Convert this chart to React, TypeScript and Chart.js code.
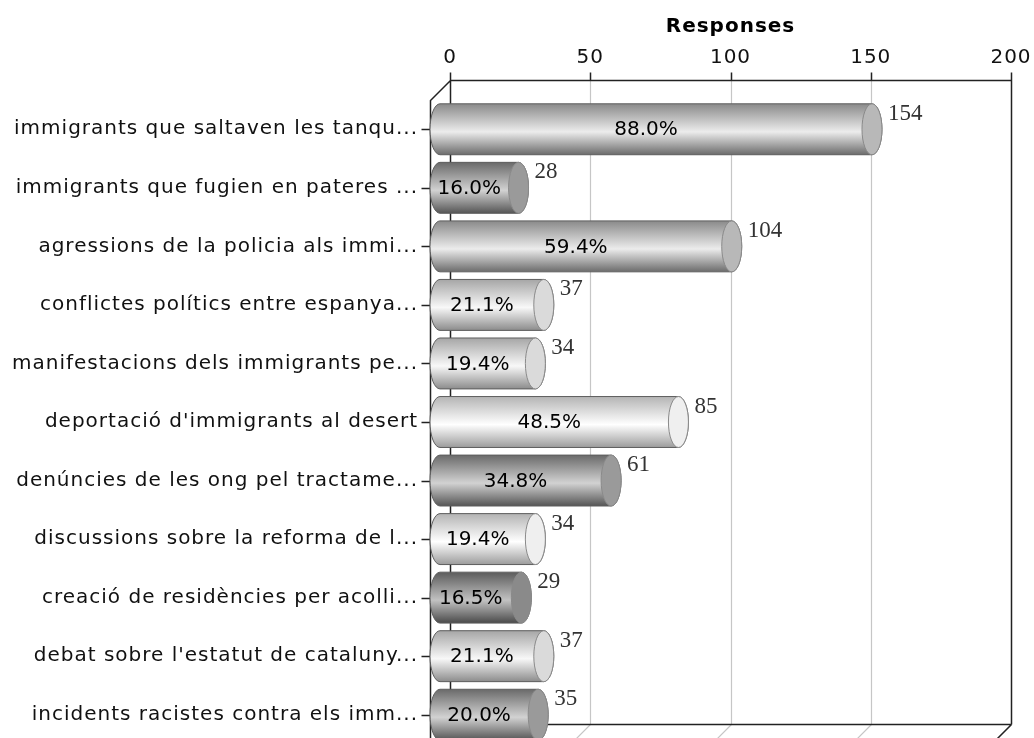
import React, { useEffect, useRef } from 'react';
import { Chart, registerables } from 'chart.js';

Chart.register(...registerables);

const categories = [
  'immigrants que saltaven les tanqu...',
  'immigrants que fugien en pateres ...',
  'agressions de la policia als immi...',
  'conflictes polítics entre espanya...',
  'manifestacions dels immigrants pe...',
  "deportació d'immigrants al desert",
  'denúncies de les ong pel tractame...',
  'discussions sobre la reforma de l...',
  'creació de residències per acolli...',
  "debat sobre l'estatut de cataluny...",
  'incidents racistes contra els imm...',
];

const responses = [154, 28, 104, 37, 34, 85, 61, 34, 29, 37, 35];
const percents = [88.0, 16.0, 59.4, 21.1, 19.4, 48.5, 34.8, 19.4, 16.5, 21.1, 20.0];

const axisMin = 0;
const axisMax = 200;
const axisStep = 50;
const axisTitle = 'Responses';

const barShades = [
  'medium', 'dark', 'medium', 'light', 'light', 'lightest',
  'dark', 'lightest', 'darkest', 'light', 'dark',
];

const palette: Record<string, { top: string; hi: string; bottom: string; cap: string }> = {
  medium: { top: '#8a8a8a', hi: '#ececec', bottom: '#6c6c6c', cap: '#b8b8b8' },
  dark: { top: '#6a6a6a', hi: '#d2d2d2', bottom: '#555555', cap: '#9a9a9a' },
  darkest: { top: '#5c5c5c', hi: '#c2c2c2', bottom: '#4a4a4a', cap: '#8a8a8a' },
  light: { top: '#a6a6a6', hi: '#f8f8f8', bottom: '#8c8c8c', cap: '#dadada' },
  lightest: { top: '#b4b4b4', hi: '#ffffff', bottom: '#9c9c9c', cap: '#efefef' },
};

const DEPTH = 20;
const PLOT_BOTTOM = 744; // front floor edge lies just below the visible canvas
const SANS = '"DejaVu Sans", sans-serif';

const frame3d = {
  id: 'frame3d',
  afterLayout(chart: any) {
    const area = chart.chartArea;
    area.bottom = PLOT_BOTTOM;
    area.height = area.bottom - area.top;
    const ys = chart.scales.y;
    ys.bottom = PLOT_BOTTOM;
    ys.height = ys.bottom - ys.top;
    ys.configure();
  },
  beforeDraw(chart: any) {
    chart.ctx.letterSpacing = '1px';
  },
  beforeDatasetsDraw(chart: any) {
    const { ctx, chartArea, scales } = chart;
    const xs = scales.x;
    const ys = scales.y;
    const top = Math.round(chartArea.top - DEPTH) + 0.5;
    const bottom = Math.round(chartArea.bottom - DEPTH) + 0.5;
    const left = Math.round(xs.getPixelForValue(axisMin)) + 0.5;
    const right = Math.round(xs.getPixelForValue(axisMax)) + 0.5;
    ctx.save();
    ctx.letterSpacing = '0px';
    // grid lines on back wall and floor
    ctx.strokeStyle = '#c6c6c6';
    ctx.lineWidth = 1.2;
    xs.ticks.forEach((t: any) => {
      if (t.value === axisMin || t.value === axisMax) return;
      const px = Math.round(xs.getPixelForValue(t.value)) + 0.5;
      ctx.beginPath();
      ctx.moveTo(px, top);
      ctx.lineTo(px, bottom);
      ctx.lineTo(px - DEPTH, bottom + DEPTH);
      ctx.stroke();
    });
    // frame
    ctx.strokeStyle = '#222';
    ctx.lineWidth = 1.5;
    ctx.beginPath();
    ctx.moveTo(left, top);
    ctx.lineTo(right, top);
    ctx.moveTo(left, bottom);
    ctx.lineTo(right, bottom);
    ctx.moveTo(left, top);
    ctx.lineTo(left, bottom);
    ctx.moveTo(right, top);
    ctx.lineTo(right, bottom);
    ctx.moveTo(left, top);
    ctx.lineTo(left - DEPTH, top + DEPTH);
    ctx.lineTo(left - DEPTH, bottom + DEPTH);
    ctx.moveTo(left, bottom);
    ctx.lineTo(left - DEPTH, bottom + DEPTH);
    ctx.moveTo(right, bottom);
    ctx.lineTo(right - DEPTH, bottom + DEPTH);
    xs.ticks.forEach((t: any) => {
      const px = Math.round(xs.getPixelForValue(t.value)) + 0.5;
      ctx.moveTo(px, top - 8);
      ctx.lineTo(px, top);
    });
    categories.forEach((_, i) => {
      const py = Math.round(ys.getPixelForValue(i)) + 0.5;
      ctx.moveTo(left - DEPTH - 9, py);
      ctx.lineTo(left - DEPTH, py);
    });
    ctx.stroke();
    ctx.restore();
  },
  afterDatasetsDraw(chart: any) {
    const { ctx } = chart;
    const meta = chart.getDatasetMeta(0);
    ctx.save();
    ctx.letterSpacing = '0px';
    meta.data.forEach((el: any, i: number) => {
      const { x, y, base, height } = el.getProps(['x', 'y', 'base', 'height'], true);
      const c = palette[barShades[i]];
      const rx = DEPTH / 2;
      const ry = height / 2;
      const xb = base - rx;
      const xe = x - rx;
      const g = ctx.createLinearGradient(0, y - ry, 0, y + ry);
      g.addColorStop(0, c.top);
      g.addColorStop(0.55, c.hi);
      g.addColorStop(1, c.bottom);
      ctx.beginPath();
      ctx.moveTo(xe, y - ry);
      ctx.lineTo(xb, y - ry);
      ctx.ellipse(xb, y, rx, ry, 0, -Math.PI / 2, Math.PI / 2, true);
      ctx.lineTo(xe, y + ry);
      ctx.ellipse(xe, y, rx, ry, 0, Math.PI / 2, -Math.PI / 2, true);
      ctx.closePath();
      ctx.fillStyle = g;
      ctx.fill();
      ctx.strokeStyle = '#5e5e5e';
      ctx.lineWidth = 1;
      ctx.stroke();
      ctx.beginPath();
      ctx.ellipse(xe, y, rx, ry, 0, 0, Math.PI * 2);
      ctx.fillStyle = c.cap;
      ctx.fill();
      ctx.strokeStyle = '#8a8a8a';
      ctx.stroke();

      // percentage label inside the bar
      ctx.fillStyle = '#000';
      ctx.font = '20px ' + SANS;
      ctx.textAlign = 'center';
      ctx.textBaseline = 'middle';
      ctx.fillText(percents[i].toFixed(1) + '%', (base + x) / 2 - DEPTH, y + 1);

      // value label
      ctx.fillStyle = '#333';
      ctx.font = '23px "Liberation Serif", serif';
      ctx.textAlign = 'left';
      ctx.textBaseline = 'alphabetic';
      ctx.fillText(String(responses[i]), x + 6, y - ry + 16);
    });
    ctx.restore();
  },
};

export default function App() {
  const ref = useRef<HTMLCanvasElement | null>(null);
  useEffect(() => {
    if (!ref.current) return;
    const chart = new Chart(ref.current, {
      type: 'bar',
      data: {
        labels: categories,
        datasets: [
          {
            data: responses,
            backgroundColor: 'rgba(0,0,0,0)',
            borderWidth: 0,
            barPercentage: 0.87,
            categoryPercentage: 1,
          },
        ],
      },
      options: {
        indexAxis: 'y',
        responsive: false,
        animation: false,
        layout: { padding: { left: 0, right: 23, top: 0, bottom: 0 } },
        plugins: { legend: { display: false }, tooltip: { enabled: false } },
        scales: {
          x: {
            position: 'top',
            min: axisMin,
            max: axisMax,
            ticks: { stepSize: axisStep, color: '#111', padding: 30, maxRotation: 0, font: { family: SANS, size: 20 } },
            grid: { display: false, drawTicks: false },
            border: { display: false },
            title: {
              display: true,
              text: axisTitle,
              color: '#000',
              font: { family: SANS, size: 20, weight: 'bold' },
              padding: { top: 15, bottom: 0 },
            },
            afterFit: (s: any) => {
              s.height = 100;
              s.paddingLeft = 0;
              s.paddingRight = 0;
            },
          },
          y: {
            ticks: { color: '#111', padding: 32, font: { family: SANS, size: 20 } },
            grid: { display: false, drawTicks: false },
            border: { display: false },
            afterFit: (s: any) => {
              s.width = 450;
              s.paddingTop = 0;
              s.paddingBottom = 0;
            },
          },
        },
      } as any,
      plugins: [frame3d],
    });
    return () => chart.destroy();
  }, []);
  return (
    <div style={{ position: 'absolute', left: 0, top: 0, width: 1034, height: 738, background: '#fff' }}>
      <canvas ref={ref} width={1034} height={738} style={{ display: 'block' }} />
    </div>
  );
}
